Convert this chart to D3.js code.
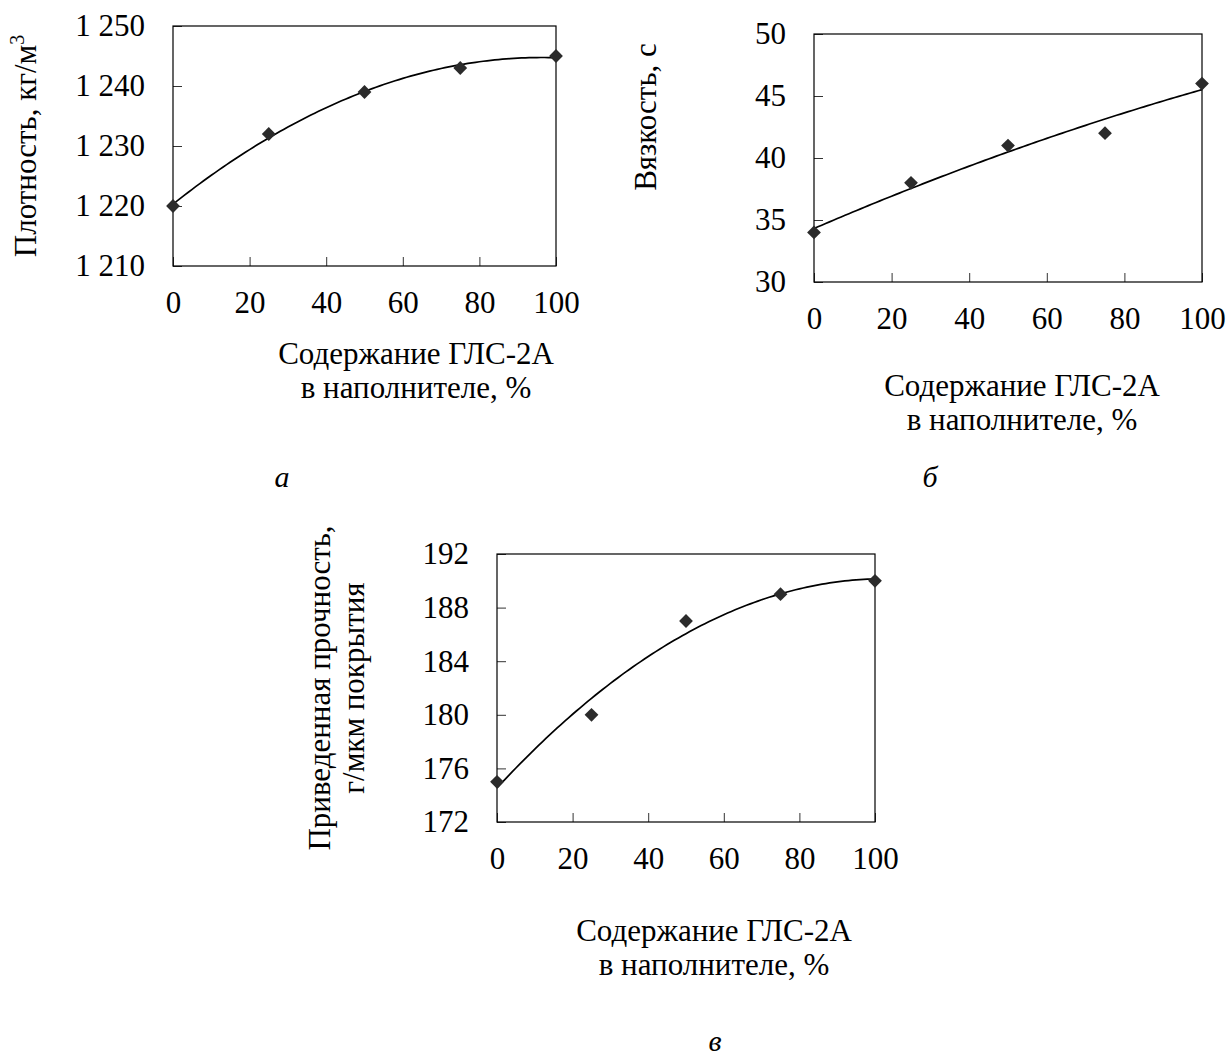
<!DOCTYPE html>
<html>
<head>
<meta charset="utf-8">
<script src="https://cdn.jsdelivr.net/npm/d3@7"></script>
<style>
  body { margin: 0; background: #fff; }
  svg { display: block; }
  text { font-family: "Liberation Serif", "Times New Roman", serif; fill: #000; }
  .tick text { font-size: 31px; }
  .axis-title { font-size: 31px; }
  .panel-letter { font-size: 30px; font-style: italic; }
</style>
</head>
<body>
<svg id="chart"></svg>
<script>
// filler content, % (same for all three panels)
const contents = [0, 25, 50, 75, 100];
const xTicks = [0, 20, 40, 60, 80, 100];

// а — density, kg/m3
const density = [1220, 1232, 1239, 1243, 1245];
const densityTicks = [1210, 1220, 1230, 1240, 1250];

// б — viscosity, s
const viscosity = [34, 38, 41, 42, 46];
const viscosityTicks = [30, 35, 40, 45, 50];

// в — reduced strength, g/um of coating
const strength = [175, 180, 187, 189, 190];
const strengthTicks = [172, 176, 180, 184, 188, 192];

const xTitle = ['Содержание ГЛС-2А', 'в наполнителе, %'];

const ruFormat = d3.formatLocale({ decimal: ',', thousands: ' ', grouping: [3], currency: ['', ''] }).format(',d');

// least squares 2nd order polynomial, like the spreadsheet trend line
function quadFit(xs, ys) {
  let s = [0, 0, 0, 0, 0], t = [0, 0, 0];
  xs.forEach((x, i) => {
    for (let k = 0; k < 5; k++) s[k] += Math.pow(x, k);
    for (let k = 0; k < 3; k++) t[k] += ys[i] * Math.pow(x, k);
  });
  let m = [[s[0], s[1], s[2], t[0]], [s[1], s[2], s[3], t[1]], [s[2], s[3], s[4], t[2]]];
  for (let i = 0; i < 3; i++) {
    for (let j = i + 1; j < 3; j++) {
      let f = m[j][i] / m[i][i];
      for (let k = i; k < 4; k++) m[j][k] -= f * m[i][k];
    }
  }
  let c = [0, 0, 0];
  for (let i = 2; i >= 0; i--) {
    let v = m[i][3];
    for (let k = i + 1; k < 3; k++) v -= m[i][k] * c[k];
    c[i] = v / m[i][i];
  }
  return x => c[0] + c[1] * x + c[2] * x * x;
}

class TrendPanel {

  constructor(_config) {
    this.config = {
      parent: _config.parent,
      left: _config.left,
      top: _config.top,
      width: _config.width,
      height: _config.height,
      yTicks: _config.yTicks,
      yTitle: _config.yTitle,
      yTitlePos: _config.yTitlePos,
      xTitlePos: _config.xTitlePos,
      letter: _config.letter,
      letterPos: _config.letterPos
    }
    this.values = _config.values;
    this.initVis();
  }

  initVis() {
    let vis = this;
    let c = vis.config;

    vis.chart = c.parent.append('g')
      .attr('transform', `translate(${c.left},${c.top})`);

    vis.x = d3.scaleLinear().domain([0, 100]).range([0, c.width]);
    vis.y = d3.scaleLinear().domain(d3.extent(c.yTicks)).range([c.height, 0]);

    vis.render();
  }

  render() {
    let vis = this;
    let c = vis.config;

    let yAxis = vis.chart.append('g')
      .call(d3.axisLeft(vis.y).tickValues(c.yTicks).tickFormat(ruFormat)
        .tickSizeInner(-9).tickSizeOuter(0).tickPadding(28));

    let xAxis = vis.chart.append('g')
      .attr('transform', `translate(0,${c.height})`)
      .call(d3.axisBottom(vis.x).tickValues(xTicks).tickFormat(d3.format('d'))
        .tickSizeInner(-9).tickSizeOuter(0).tickPadding(25));

    [yAxis, xAxis].forEach(a => {
      a.attr('font-family', null).attr('font-size', null);
      a.select('.domain').remove();
      a.selectAll('.tick line').attr('stroke', '#333').attr('stroke-width', 1);
    });

    vis.chart.append('rect')
      .attr('width', c.width)
      .attr('height', c.height)
      .attr('fill', 'none')
      .attr('stroke', '#000')
      .attr('stroke-width', 1.2);

    // trend line
    let fit = quadFit(contents, vis.values);
    let xs = d3.range(0, 100.5, 1);
    vis.chart.append('path')
      .datum(xs)
      .attr('fill', 'none')
      .attr('stroke', '#000')
      .attr('stroke-width', 1.7)
      .attr('d', d3.line().x(d => vis.x(d)).y(d => vis.y(fit(d))));

    // markers
    vis.chart.selectAll('.marker')
      .data(contents.map((d, i) => [d, vis.values[i]]))
      .join('path')
      .attr('class', 'marker')
      .attr('transform', d => `translate(${vis.x(d[0])},${vis.y(d[1])}) rotate(45)`)
      .attr('d', d3.symbol(d3.symbolSquare, 95))
      .attr('fill', '#2b2b2b');

    // y title (one or two lines)
    c.yTitle.forEach((line, i) => {
      let t = vis.chart.append('text')
        .attr('class', 'axis-title')
        .attr('text-anchor', 'middle')
        .attr('transform', `translate(${c.yTitlePos[0] + i * 34},${c.yTitlePos[1]}) rotate(-90)`);
      t.append('tspan').text(line.text);
      if (line.sup) {
        t.append('tspan').attr('font-size', '20px').attr('dy', '-12').text(line.sup);
      }
    });

    // x title
    xTitle.forEach((line, i) => {
      vis.chart.append('text')
        .attr('class', 'axis-title')
        .attr('text-anchor', 'middle')
        .attr('x', c.xTitlePos[0])
        .attr('y', c.xTitlePos[1] + i * 34)
        .text(line);
    });

    vis.chart.append('text')
      .attr('class', 'panel-letter')
      .attr('text-anchor', 'middle')
      .attr('x', c.letterPos[0])
      .attr('y', c.letterPos[1])
      .text(c.letter);
  }
}

const svg = d3.select('#chart')
  .attr('width', 1229)
  .attr('height', 1058);

new TrendPanel({
  parent: svg, left: 173, top: 26, width: 383, height: 240,
  values: density, yTicks: densityTicks,
  yTitle: [{ text: 'Плотность, кг/м', sup: '3' }],
  yTitlePos: [-137, 120], xTitlePos: [243, 338],
  letter: 'а', letterPos: [109, 461]
});

new TrendPanel({
  parent: svg, left: 814, top: 34, width: 388, height: 248,
  values: viscosity, yTicks: viscosityTicks,
  yTitle: [{ text: 'Вязкость, с' }],
  yTitlePos: [-158, 83], xTitlePos: [208, 362],
  letter: 'б', letterPos: [116, 453]
});

new TrendPanel({
  parent: svg, left: 497, top: 554, width: 378, height: 268,
  values: strength, yTicks: strengthTicks,
  yTitle: [{ text: 'Приведенная прочность,' }, { text: 'г/мкм покрытия' }],
  yTitlePos: [-167, 134], xTitlePos: [217, 387],
  letter: 'в', letterPos: [218, 497]
});
</script>
</body>
</html>
